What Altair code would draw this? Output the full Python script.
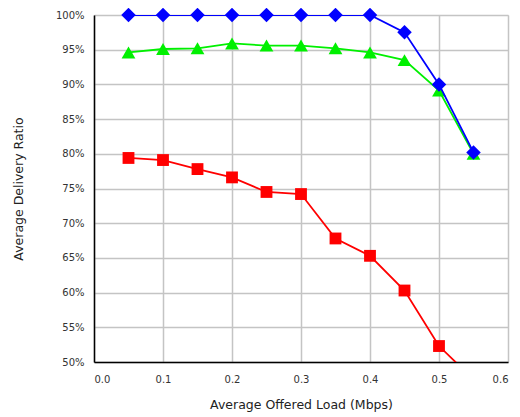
import altair as alt
import pandas as pd

loads = [0.05, 0.10, 0.15, 0.20, 0.25, 0.30, 0.35, 0.40, 0.45, 0.50, 0.55]
blue_vals = [1.000, 1.000, 1.000, 1.000, 1.000, 1.000, 1.000, 1.000, 0.975, 0.900, 0.802]
green_vals = [0.946, 0.951, 0.952, 0.959, 0.956, 0.956, 0.952, 0.946, 0.935, 0.891, 0.800]
red_vals = [0.794, 0.791, 0.778, 0.766, 0.745, 0.742, 0.678, 0.653, 0.603, 0.523, 0.475]

series_names = ["Red", "Green", "Blue"]
series_colors = ["#ff0000", "#00f000", "#0000ff"]
series_shapes = ["square", "triangle-up", "diamond"]
series_sizes = [140, 190, 210]

x_ticks = [0.0, 0.1, 0.2, 0.3, 0.4, 0.5, 0.6]
y_ticks = [0.50, 0.55, 0.60, 0.65, 0.70, 0.75, 0.80, 0.85, 0.90, 0.95, 1.00]

rows = []
for name, vals in zip(series_names, [red_vals, green_vals, blue_vals]):
    for x, y in zip(loads, vals):
        rows.append({"load": x, "ratio": y, "series": name})
df = pd.DataFrame(rows)

FONT = "DejaVu Sans"

xenc = alt.X(
    "load:Q",
    scale=alt.Scale(domain=[0, 0.6], nice=False),
    axis=alt.Axis(
        values=x_ticks, format=".1f", title="Average Offered Load (Mbps)",
        ticks=False, labelPadding=12, titlePadding=14,
        labelFont=FONT, labelFontSize=10, labelColor="#333333",
        titleFont=FONT, titleFontSize=12.5, titleFontWeight="normal", titleColor="#222222",
        domainColor="#000000", domainWidth=1.5,
        gridColor="#c4c4c4", gridWidth=1.5,
    ),
)
yenc = alt.Y(
    "ratio:Q",
    scale=alt.Scale(domain=[0.5, 1.0], nice=False),
    axis=alt.Axis(
        values=y_ticks, format=".0%", title="Average Delivery Ratio",
        ticks=False, labelPadding=10, titlePadding=30,
        labelFont=FONT, labelFontSize=10, labelColor="#333333",
        titleFont=FONT, titleFontSize=12.5, titleFontWeight="normal", titleColor="#222222",
        domainColor="#000000", domainWidth=1.5,
        gridColor="#c4c4c4", gridWidth=1.5,
    ),
)

layers = []
for name, color, shape, size in zip(series_names, series_colors, series_shapes, series_sizes):
    sub = df[df["series"] == name]
    base = alt.Chart(sub).encode(x=xenc, y=yenc)
    layers.append(base.mark_line(color=color, strokeWidth=1.8, clip=True))
    layers.append(
        base.transform_filter(alt.datum.ratio >= 0.5)
        .mark_point(shape=shape, size=size, filled=True, opacity=1, color=color)
    )

chart = alt.layer(*layers).properties(
    width=414,
    height=347,
    autosize=alt.AutoSizeParams(type="none"),
    padding={"left": 86, "top": 7, "right": 4, "bottom": 62},
).configure_view(stroke=None).configure(background="#ffffff")

chart.save("out.html", embed_options={"renderer": "svg", "actions": False})
